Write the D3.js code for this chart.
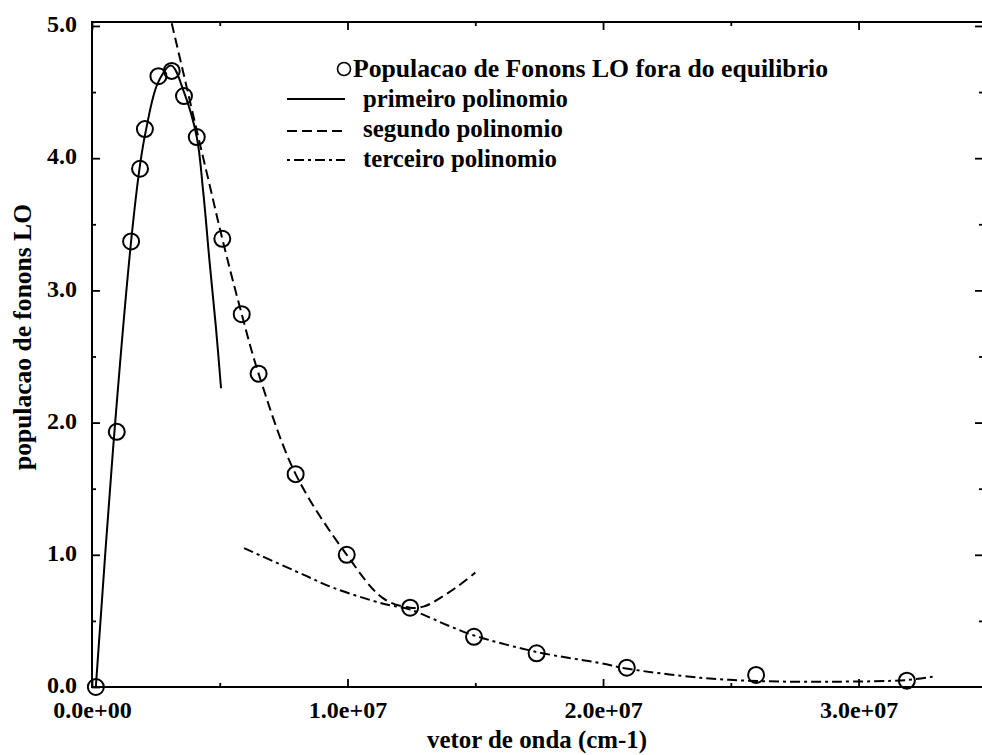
<!DOCTYPE html>
<html>
<head>
<meta charset="utf-8">
<script src="https://cdn.jsdelivr.net/npm/d3@7"></script>
<style>
  html, body { margin: 0; padding: 0; background: #fff; }
  svg { display: block; }
  text { font-family: "Liberation Serif", "Times New Roman", serif; font-weight: bold; fill: #000; }
</style>
</head>
<body>
<svg id="chart" width="982" height="755"></svg>
<script>
// Measured LO-phonon population versus wave vector (cm^-1)
const waveVector = [1.5e5, 0.97e6, 1.53e6, 1.88e6, 2.07e6, 2.6e6, 3.12e6, 3.6e6, 4.1e6,
  5.1e6, 5.86e6, 6.52e6, 7.97e6, 9.97e6, 12.45e6, 14.95e6, 17.4e6, 20.93e6, 25.99e6, 31.89e6];
const population = [0.0, 1.93, 3.37, 3.92, 4.22, 4.62, 4.66, 4.47, 4.16,
  3.39, 2.82, 2.37, 1.61, 1.00, 0.60, 0.38, 0.255, 0.146, 0.091, 0.048];

// First polynomial fit (low wave vectors)
const poly1X = [1.5e5, 0.82e6, 1.53e6, 1.88e6, 2.12e6, 2.58e6, 3.1e6, 3.6e6, 4.1e6, 4.35e6, 4.6e6, 4.85e6, 5.05e6];
const poly1Y = [0.0, 1.79, 3.37, 3.95, 4.22, 4.57, 4.70, 4.50, 4.16, 3.75, 3.22, 2.72, 2.26];

// Second polynomial fit (intermediate wave vectors)
const poly2X = [3.12e6, 3.6e6, 4.1e6, 4.6e6, 5.1e6, 5.86e6, 6.52e6, 7.97e6, 9.97e6, 11.4e6, 12.45e6, 13.0e6, 13.6e6, 14.3e6, 15.0e6];
const poly2Y = [5.02, 4.625, 4.21, 3.80, 3.39, 2.82, 2.37, 1.61, 1.00, 0.67, 0.60, 0.61, 0.67, 0.76, 0.865];

// Third polynomial fit (high wave vectors)
const poly3X = [5.95e6, 8.27e6, 9.45e6, 11.4e6, 12.45e6, 14.0e6, 14.95e6, 17.4e6, 19.9e6, 20.9e6, 23.8e6, 26.1e6, 29.0e6, 31.9e6, 32.9e6];
const poly3Y = [1.05, 0.85, 0.75, 0.63, 0.585, 0.46, 0.39, 0.265, 0.18, 0.14, 0.07, 0.045, 0.04, 0.053, 0.078];

const xTicks = [0, 1e7, 2e7, 3e7];
const xTickLabels = ["0.0e+00", "1.0e+07", "2.0e+07", "3.0e+07"];
const xMinorTicks = [0.5e7, 1.5e7, 2.5e7];
const yTicks = [0, 1, 2, 3, 4, 5];
const yTickLabels = ["0.0", "1.0", "2.0", "3.0", "4.0", "5.0"];
const yMinorTicks = [0.5, 1.5, 2.5, 3.5, 4.5];

const legendLabels = ["Populacao de Fonons LO fora do equilibrio", "primeiro polinomio", "segundo polinomio", "terceiro polinomio"];
const xTitle = "vetor de onda (cm-1)";
const yTitle = "populacao de fonons LO";

const X_MAX = 3.487e7, Y_MAX = 5.03;

const svg = d3.select("#chart");
const plotLeft = 92, plotRight = 983, plotTop = 22, plotBottom = 687;

const x = d3.scaleLinear().domain([0, X_MAX]).range([plotLeft, plotRight]);
const y = d3.scaleLinear().domain([0, Y_MAX]).range([plotBottom, plotTop]);

const TICK_FONT = 24;
const TEXT_FONT = 25;

// Axes (ticks point inward)
function styleAxis(g) {
  g.select(".domain").remove();
  g.selectAll(".tick line").attr("stroke", "#000").attr("stroke-width", 1.8);
  g.selectAll("text").style("font-size", TICK_FONT + "px").attr("font-family", null).attr("fill", "#000");
}

svg.append("g").attr("transform", `translate(0,${plotBottom})`)
  .call(d3.axisBottom(x).tickValues(xTicks).tickSize(-8).tickPadding(14)
    .tickFormat((d, i) => xTickLabels[i]))
  .call(styleAxis);
svg.append("g").attr("transform", `translate(0,${plotBottom})`)
  .call(d3.axisBottom(x).tickValues(xMinorTicks).tickSize(-4).tickFormat(""))
  .call(styleAxis);

svg.append("g").attr("transform", `translate(0,${plotTop})`)
  .call(d3.axisTop(x).tickValues(xTicks).tickSize(-8).tickFormat(""))
  .call(styleAxis);
svg.append("g").attr("transform", `translate(0,${plotTop})`)
  .call(d3.axisTop(x).tickValues(xMinorTicks).tickSize(-4).tickFormat(""))
  .call(styleAxis);

svg.append("g").attr("transform", `translate(${plotLeft},0)`)
  .call(d3.axisLeft(y).tickValues(yTicks).tickSize(-8).tickPadding(15)
    .tickFormat((d, i) => yTickLabels[i]))
  .call(styleAxis)
  .call(g => g.selectAll("text").attr("dy", "0.24em"));
svg.append("g").attr("transform", `translate(${plotLeft},0)`)
  .call(d3.axisLeft(y).tickValues(yMinorTicks).tickSize(-4).tickFormat(""))
  .call(styleAxis);

svg.append("g").attr("transform", `translate(${plotRight},0)`)
  .call(d3.axisRight(y).tickValues(yTicks.slice(1)).tickSize(-8).tickFormat(""))
  .call(styleAxis);
svg.append("g").attr("transform", `translate(${plotRight},0)`)
  .call(d3.axisRight(y).tickValues(yMinorTicks).tickSize(-4).tickFormat(""))
  .call(styleAxis);

// Frame: left, top and bottom edges
svg.append("path")
  .attr("d", `M${plotRight},${plotTop}H${plotLeft}V${plotBottom}H${plotRight}`)
  .attr("fill", "none").attr("stroke", "#000").attr("stroke-width", 2);

// Axis titles
svg.append("text").attr("x", 537).attr("y", 748)
  .attr("text-anchor", "middle").style("font-size", TEXT_FONT + "px")
  .attr("textLength", 220).attr("lengthAdjust", "spacingAndGlyphs").text(xTitle);
svg.append("text").attr("transform", "translate(31,337) rotate(-90)")
  .attr("text-anchor", "middle").style("font-size", TEXT_FONT + "px")
  .attr("textLength", 266).attr("lengthAdjust", "spacingAndGlyphs").text(yTitle);

// Fitted curves
const line = d3.line().x(d => x(d[0])).y(d => y(d[1])).curve(d3.curveCatmullRom.alpha(0.5));
const curves = [
  { xs: poly1X, ys: poly1Y, dash: null },
  { xs: poly2X, ys: poly2Y, dash: "10,5" },
  { xs: poly3X, ys: poly3Y, dash: "10,4,3,4" }
];
curves.forEach(c => {
  svg.append("path")
    .datum(d3.zip(c.xs, c.ys))
    .attr("d", line)
    .attr("fill", "none").attr("stroke", "#000").attr("stroke-width", 2)
    .attr("stroke-dasharray", c.dash);
});

// Measured points
svg.append("g").selectAll("circle")
  .data(d3.zip(waveVector, population))
  .join("circle")
  .attr("cx", d => x(d[0])).attr("cy", d => y(d[1])).attr("r", 8)
  .attr("fill", "none").attr("stroke", "#000").attr("stroke-width", 2);

// Legend
const lg = svg.append("g");
lg.append("circle").attr("cx", 344).attr("cy", 69).attr("r", 6.5)
  .attr("fill", "none").attr("stroke", "#000").attr("stroke-width", 1.6);
lg.append("text").attr("x", 353).attr("y", 77).style("font-size", TEXT_FONT + "px")
  .attr("textLength", 475).attr("lengthAdjust", "spacingAndGlyphs").text(legendLabels[0]);
const legendRows = [
  { y: 107, ly: 99, dash: null, len: 205 },
  { y: 137, ly: 131, dash: "10,5", len: 200 },
  { y: 167, ly: 160, dash: "3,4,10,4", len: 194 }
];
legendRows.forEach((r, i) => {
  lg.append("line").attr("x1", 287).attr("x2", 345).attr("y1", r.ly).attr("y2", r.ly)
    .attr("stroke", "#000").attr("stroke-width", 2).attr("stroke-dasharray", r.dash);
  lg.append("text").attr("x", 363).attr("y", r.y).style("font-size", TEXT_FONT + "px")
    .attr("textLength", r.len).attr("lengthAdjust", "spacingAndGlyphs").text(legendLabels[i + 1]);
});
</script>
</body>
</html>
